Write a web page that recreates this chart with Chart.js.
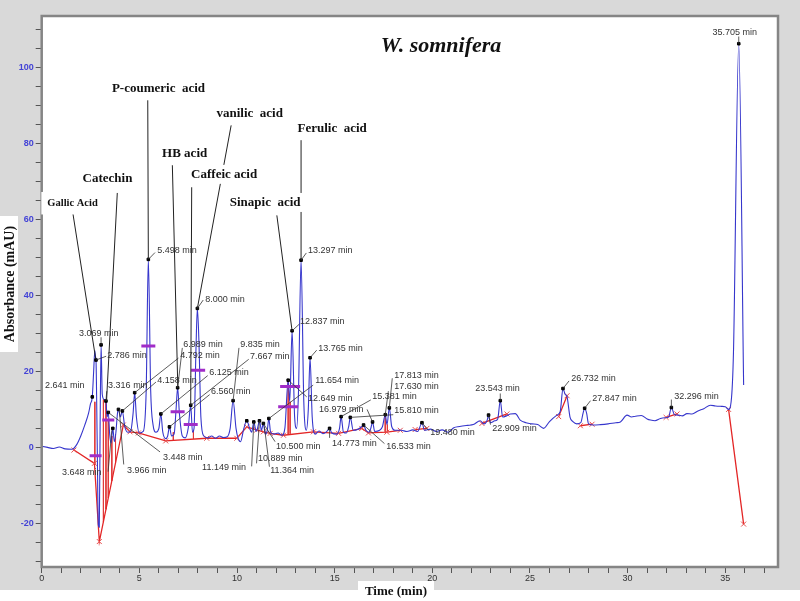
<!DOCTYPE html>
<html>
<head>
<meta charset="utf-8">
<script src="https://cdn.jsdelivr.net/npm/chart.js@4"></script>
<style>
  body{margin:0;background:#fff;}
  #wrap{width:800px;height:601px;}
</style>
</head>
<body>
<div id="wrap"><canvas id="hplc" width="800" height="601"></canvas></div>
<script>
/* CHROMATOGRAM TRACE (time in min, absorbance in mAU) */
const traceTime=[0,0.3,0.6,0.9,1.2,1.55,1.8,2.0,2.2,2.4,2.5,2.59,2.66,2.72,2.75,2.78,2.84,2.9,2.95,2.99,
3.04,3.1,3.2,3.29,3.35,3.41,3.48,3.55,3.64,3.72,3.8,3.88,3.93,4.03,4.13,4.25,4.4,4.55,4.68,4.76,
4.85,5.0,5.2,5.35,5.46,5.58,5.7,5.85,6.0,6.1,6.2,6.35,6.45,6.54,6.65,6.78,6.88,6.96,7.05,7.2,
7.35,7.5,7.63,7.72,7.8,7.9,7.97,8.05,8.15,8.3,8.5,8.7,8.9,9.1,9.3,9.5,9.65,9.8,9.95,10.05,
10.18,10.35,10.5,10.65,10.75,10.86,10.98,11.05,11.15,11.25,11.35,11.45,11.55,11.63,11.72,11.9,12.1,12.3,12.45,12.62,
12.7,12.82,12.95,13.05,13.15,13.28,13.42,13.55,13.65,13.74,13.85,14.0,14.2,14.4,14.6,14.74,14.85,15.1,15.25,15.33,
15.45,15.6,15.72,15.8,15.95,16.2,16.4,16.48,16.6,16.75,16.85,16.94,17.05,17.3,17.45,17.59,17.68,17.8,17.92,18.1,
18.4,18.7,19.0,19.25,19.47,19.6,19.9,20.2,20.5,20.8,21.1,21.4,21.8,22.1,22.45,22.65,22.8,22.88,22.98,23.2,
23.35,23.48,23.6,23.8,24.0,24.25,24.5,24.8,25.1,25.4,25.7,26.0,26.38,26.55,26.69,26.8,26.9,27.05,27.2,27.4,
27.6,27.72,27.8,27.9,28.0,28.26,28.6,29.0,29.4,29.63,29.97,30.2,30.4,30.7,31.0,31.17,31.4,31.68,31.9,32.1,
32.24,32.4,32.6,32.8,33.04,33.3,33.6,33.9,34.24,34.5,34.8,35.0,35.17,35.3,35.42,35.69,35.94];
const traceAbs=[0.3,0.0,-0.3,0.1,-0.4,-0.5,0.8,3.0,5.8,9.0,11.5,13.3,20,25.5,24,23,2,-20.5,-21,5,
27,14,12.6,12.2,8,9.2,3.5,1.1,5,1.5,4,9,10,8,9.6,5.5,4,4.2,9,14.4,
8,3.8,4.2,15,49.5,15,6,4,5,8.8,4,2.3,3,5.4,3,3.5,10,15.7,9,3,
2.5,5,11.1,4,5,26,36.6,28,8,3,2.5,3.0,2.4,3.0,2.6,2.8,5,12.3,5,2.5,
1.5,5,7,5,4,6.7,4.2,5,7,4.5,6.3,3.5,4.5,7.6,4,3.5,3.8,3.2,5,17.7,
12,30.7,8,5,15,49.3,12,4.5,10,23.6,8,3.5,4.3,3.6,4.2,5,3.8,3.5,5,8.1,
4,3.8,5.5,7.9,4.5,4.8,5.5,5.9,4.5,4,5,6.7,4.2,4.5,5.5,8.6,6,10.4,5.5,4.5,
4.5,4.2,4.6,4.2,6.5,4.5,4.8,4.2,4.6,4.0,5.2,5.5,5.8,6.0,7.0,6.2,7,8.5,6.5,7.0,
7.5,12.3,8,8.3,8.8,8.9,7.2,6.5,6.2,6.0,5.0,6.8,8.5,9.5,15.5,14,13.3,8,6.8,6.2,
6.5,9,10.3,9,6.2,5.9,6.0,6.2,6.5,6.7,8.5,8.0,8.2,8.4,7.5,7.2,7.0,7.6,7.8,8.0,
10.5,8.6,8.5,8.3,8.9,8.8,9.6,10.2,11.1,10.9,10.8,10.7,10.0,12,25,106.3,16.4];

/* INTEGRATION BASELINE (null = break) */
const baseTime=[1.65,2.70,2.95,4.18,4.52,4.95,6.35,8.45,9.99,10.5,11.01,11.35,11.7,12.38,13.91,15.2,16.39,16.73,17.67,18.36,
18.4,19.12,19.72,19.8,22.54,23.82,23.9,26.47,26.9,27.0,27.58,28.18,28.3,31.97,32.53,32.6,35.17,35.94];
const baseAbs=[-0.7,-4.2,-24.8,5.9,4.1,3.8,1.7,2.4,2.4,5.4,4.6,4.1,3.7,3.2,4.1,3.7,5.0,3.8,4.0,4.5,
null,4.7,5.0,null,6.3,8.8,null,8.1,13.6,null,5.7,6.1,null,7.9,8.8,null,10.0,-20.2];

/* DROP LINES */
const dropTime=[2.72,3.16,3.29,3.41,3.59,3.78,6.74,7.77,12.62,12.72,17.59,17.7];
const dropTop=[12,12.6,12.2,7.2,3,3.5,4,4.5,17.7,12,8.6,6];
const dropBottom=[-4.5,-19.6,-16.3,-13.3,-8.8,-4.1,1.8,2.3,3.5,3.6,4.0,4.0];

/* PEAK APEX */
const peakTime=[2.59,2.78,3.04,3.29,3.41,3.64,3.93,4.13,4.76,5.46,6.1,6.54,6.96,7.63,7.97,9.8,10.5,10.86,11.15,11.35,
11.63,12.62,12.82,13.28,13.74,14.74,15.33,15.8,16.48,16.94,17.59,17.8,19.47,22.88,23.48,26.69,27.8,32.24,35.69];
const peakAbs=[13.3,23,27,12.2,9.2,5,10,9.6,14.4,49.5,8.8,5.4,15.7,11.1,36.6,12.3,7,6.7,7,6.3,
7.6,17.7,30.7,49.3,23.6,5,8.1,7.9,5.9,6.7,8.6,10.4,6.5,8.5,12.3,15.5,10.3,10.5,106.3];

/* HALF-HEIGHT MARKS */
const halfTime=[2.76,3.41,5.46,6.96,7.63,8.01,12.72,12.62];
const halfAbs=[-2.2,7.2,26.7,9.4,6.0,20.3,16.0,10.7];

/* RETENTION TIME LABELS: text, labelT, labelA, fromT, fromA, toT, toA */
const timeLabels=[
["2.641 min",0.17,16.4,null,null,null,null],
["3.069 min",1.91,30.1,3.04,27,3.04,29],
["2.786 min",3.35,24.3,2.78,23,3.3,24.0],
["3.316 min",3.40,16.4,3.29,12.2,3.33,14.8],
["3.448 min",6.21,-2.6,3.41,9.2,6.06,-1.2],
["3.648 min",1.04,-6.5,3.59,4.5,3.40,-6.4],
["3.966 min",4.37,-6.0,3.97,10,4.2,-4.5],
["4.158 min",5.91,17.7,4.13,9.6,5.85,17.2],
["4.792 min",7.09,24.3,4.76,14.4,7.0,23.5],
["6.989 min",7.25,27.2,6.96,15.7,7.2,26.2],
["6.125 min",8.58,19.6,6.1,8.8,8.5,18.9],
["6.560 min",8.67,14.6,6.54,5.4,8.6,13.9],
["7.667 min",10.67,23.8,7.63,11.1,10.6,23.2],
["5.498 min",5.91,51.9,5.46,49.5,5.8,51.3],
["8.000 min",8.37,39.0,7.97,36.6,8.27,38.8],
["9.835 min",10.16,27.0,9.8,12.3,10.1,26.2],
["10.500 min",12.0,0.1,11.35,6.3,11.95,1.5],
["10.889 min",11.08,-3.0,11.15,7,11.0,-4.2],
["11.149 min",8.21,-5.4,10.86,6.7,10.75,-5.0],
["11.364 min",11.7,-6.2,11.4,5.5,11.66,-5.1],
["11.654 min",14.0,17.7,11.63,7.6,13.9,16.4],
["12.649 min",13.64,13.0,12.62,17.7,13.57,13.3],
["12.837 min",13.23,33.2,12.82,30.7,13.2,32.5],
["13.297 min",13.64,51.8,13.28,49.3,13.55,51.2],
["13.765 min",14.16,26.1,13.74,23.6,14.08,25.6],
["14.773 min",14.87,1.1,14.74,5,14.74,2.5],
["15.381 min",16.92,13.3,15.33,8.1,16.85,12.5],
["16.979 min",14.2,10.1,16.94,6.7,16.66,10.0],
["15.810 min",18.05,9.8,15.8,7.9,18.0,8.6],
["16.533 min",17.64,0.3,16.48,5.9,17.55,1.0],
["17.630 min",18.05,15.9,17.59,8.6,17.75,14.8],
["17.813 min",18.05,19.0,17.8,10.4,17.95,18.2],
["19.480 min",19.89,3.8,19.47,6.5,19.8,4.5],
["22.909 min",23.07,5.0,22.88,8.5,22.98,6.0],
["23.543 min",22.2,15.4,23.48,12.3,23.48,14.2],
["26.732 min",27.11,18.2,26.69,15.5,27.0,17.5],
["27.847 min",28.19,13.0,27.8,10.3,28.1,12.3],
["32.296 min",32.39,13.5,32.24,10.5,32.24,12.6],
["35.705 min",34.34,109.3,35.69,106.3,35.69,108.2]
];

/* COMPOUND NAMES: text, centerT, centerA, size, fromT, fromA, toT, toA */
const compoundLabels=[
["Gallic Acid",1.58,64.3,10.5,1.54,63.5,2.76,23.5],
["Catechin",3.37,70.9,13,3.87,67.0,3.32,12.2],
["P-coumeric  acid",5.98,94.6,13,5.43,91.4,5.46,49.6],
["HB acid",7.32,77.4,13,6.69,74.3,6.97,15.7],
["vanilic  acid",10.65,88.0,13,9.70,84.8,7.97,36.6],
["Caffeic acid",9.34,71.9,13,7.68,68.5,7.63,11.1],
["Ferulic  acid",14.87,84.0,13,13.28,80.9,13.28,49.3],
["Sinapic  acid",11.44,64.5,13,12.04,61.1,12.82,30.7]
];

const SANS="Arial, 'Liberation Sans', sans-serif";
const SERIF="'Times New Roman', 'Liberation Serif', serif";

function pts(ts,vs){
    return ts.map((t,i)=>({x:t,y:vs[i]}));
}

let dropPts=[];
dropTime.forEach((t,i)=>{
    dropPts.push({x:t,y:dropTop[i]});
    dropPts.push({x:t,y:dropBottom[i]});
    dropPts.push({x:t,y:null});
});

/* BACKGROUND + ANNOTATIONS */
const decor={
    id:"decor",
    beforeDraw(chart){
        const c=chart.ctx, a=chart.chartArea;
        c.save();
        c.fillStyle="#fff";
        c.fillRect(0,0,chart.width,chart.height);
        c.fillStyle="#d9d9d9";
        c.fillRect(0,0,chart.width,590);
        c.fillStyle="#fff";
        c.fillRect(a.left,a.top,a.right-a.left,a.bottom-a.top);
        // axis title boxes
        c.fillRect(0,216,18,136);
        c.fillRect(358,581,76,20);
        c.restore();
    },
    afterDatasetsDraw(chart){
        const c=chart.ctx, a=chart.chartArea;
        const X=chart.scales.x, Y=chart.scales.y;
        const px=t=>X.getPixelForValue(t), py=v=>Y.getPixelForValue(v);
        c.save();

        // leaders of retention labels
        c.strokeStyle="#333";
        c.lineWidth=0.8;
        timeLabels.forEach(r=>{
            if(r[3]===null) return;
            c.beginPath();
            c.moveTo(px(r[3]),py(r[4]));
            c.lineTo(px(r[5]),py(r[6]));
            c.stroke();
        });

        // compound leaders
        c.strokeStyle="#222";
        c.lineWidth=1;
        compoundLabels.forEach(r=>{
            c.beginPath();
            c.moveTo(px(r[4]),py(r[5]));
            c.lineTo(px(r[6]),py(r[7]));
            c.stroke();
        });

        // frame
        c.strokeStyle="#858585";
        c.lineWidth=2.5;
        c.strokeRect(a.left,a.top,a.right-a.left,a.bottom-a.top);

        // compound names with white boxes
        c.textAlign="center";
        c.textBaseline="middle";
        compoundLabels.forEach((r,i)=>{
            c.font="bold "+r[3]+"px "+SERIF;
            const w=c.measureText(r[0]).width;
            const x=px(r[1]), y=py(r[2]);
            const pad=i===0?6:3;
            c.fillStyle="#fff";
            c.fillRect(x-w/2-pad,y-r[3]/2-pad,w+pad*2,r[3]+pad*2);
            c.fillStyle="#111";
            c.fillText(r[0],x,y);
        });

        // retention labels
        c.font="9px "+SANS;
        c.textAlign="left";
        c.fillStyle="#333";
        timeLabels.forEach(r=>{
            c.fillText(r[0],px(r[1]),py(r[2]));
        });

        // title
        c.fillStyle="#111";
        c.textAlign="center";
        c.font="italic bold 22px "+SERIF;
        c.fillText("W. somnifera",441,46);

        // axis titles
        c.font="bold 13px "+SERIF;
        c.fillText("Time (min)",396,592);
        c.font="bold 14px "+SERIF;
        c.translate(10,284);
        c.rotate(-Math.PI/2);
        c.fillText("Absorbance (mAU)",0,0);
        c.restore();
    }
};

new Chart(
document.getElementById("hplc"),
{
    type:"scatter",

    data:{
        datasets:[
        {
            label:"peaks",
            data:pts(peakTime,peakAbs),
            pointStyle:"rect",
            pointRadius:1.8,
            backgroundColor:"#000",
            borderColor:"#000",
            showLine:false,
            order:1
        },
        {
            label:"half",
            data:pts(halfTime,halfAbs),
            pointStyle:"line",
            pointRadius:[6,6,7,7,7,7,10,10],
            borderColor:"#a02cc8",
            pointBorderWidth:3,
            showLine:false,
            order:2
        },
        {
            label:"signal",
            data:pts(traceTime,traceAbs),
            showLine:true,
            borderColor:"#3636cc",
            borderWidth:1.1,
            pointRadius:0,
            cubicInterpolationMode:"monotone",
            order:3
        },
        {
            label:"baseline",
            data:pts(baseTime,baseAbs),
            showLine:true,
            spanGaps:false,
            borderColor:"#e32626",
            borderWidth:1.3,
            pointStyle:"crossRot",
            pointRadius:3.5,
            pointBorderColor:"#e85050",
            pointBorderWidth:1,
            order:4
        },
        {
            label:"drops",
            data:dropPts,
            showLine:true,
            spanGaps:false,
            borderColor:"#e03a3a",
            borderWidth:1,
            pointRadius:0,
            order:5
        }
        ]
    },

    options:{
        responsive:false,
        animation:false,
        layout:{padding:{top:16,right:22,left:0,bottom:6}},
        plugins:{legend:{display:false},tooltip:{enabled:false}},
        scales:{
            x:{
                type:"linear",
                min:0,
                max:37.7,
                afterFit:s=>{s.height=28;},
                border:{display:false},
                grid:{drawOnChartArea:false,tickLength:6,color:"#555"},
                ticks:{
                    stepSize:1,
                    includeBounds:false,
                    autoSkip:false,
                    maxRotation:0,
                    padding:0,
                    color:"#333",
                    font:{size:9,family:SANS},
                    callback:v=>Math.round(v)%5===0?String(Math.round(v)):""
                }
            },
            y:{
                type:"linear",
                min:-31.5,
                max:113.6,
                afterFit:s=>{s.width=41.7;},
                border:{display:false},
                grid:{drawOnChartArea:false,tickLength:6,color:"#555"},
                ticks:{
                    stepSize:5,
                    includeBounds:false,
                    autoSkip:false,
                    padding:2,
                    color:"#4343d6",
                    font:{size:9,weight:"bold",family:SANS},
                    callback:v=>Math.round(v)%20===0?String(Math.round(v)):""
                }
            }
        }
    },

    plugins:[decor]
}
);
</script>
</body>
</html>
